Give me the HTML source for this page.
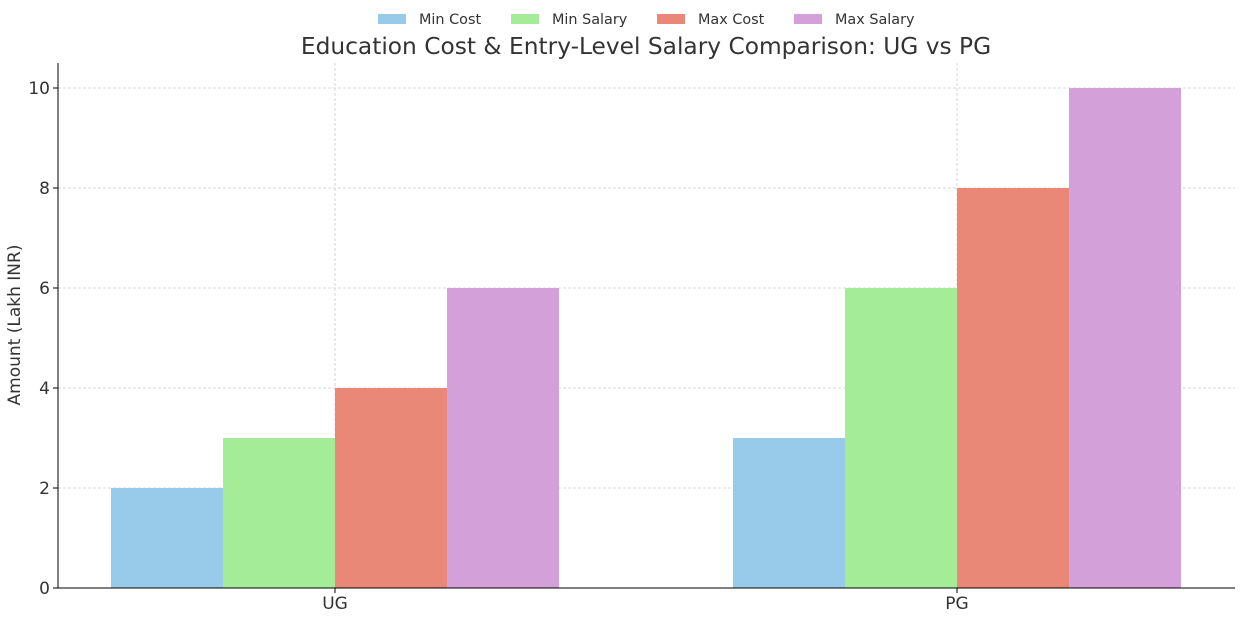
<!DOCTYPE html>
<html><head><style>body{margin:0;background:#fff}svg{display:block}text{font-family:"DejaVu Sans","Liberation Sans",sans-serif;fill:#333}</style></head><body>
<svg width="1246" height="622" viewBox="0 0 1246 622">
<g stroke="#ccc" stroke-width="0.8" stroke-dasharray="3,2">
<line x1="58" x2="1235" y1="488" y2="488"/><line x1="58" x2="1235" y1="388" y2="388"/><line x1="58" x2="1235" y1="288" y2="288"/><line x1="58" x2="1235" y1="188" y2="188"/><line x1="58" x2="1235" y1="88" y2="88"/>
<line x1="335" x2="335" y1="63" y2="588"/><line x1="957" x2="957" y1="63" y2="588"/>
</g>
<rect x="111" y="488" width="112" height="100" fill="#97cbe9"/>
<rect x="223" y="438" width="112" height="150" fill="#a4ec97"/>
<rect x="335" y="388" width="112" height="200" fill="#e98877"/>
<rect x="447" y="288" width="112" height="300" fill="#d4a0d9"/>
<rect x="733" y="438" width="112" height="150" fill="#97cbe9"/>
<rect x="845" y="288" width="112" height="300" fill="#a4ec97"/>
<rect x="957" y="188" width="112" height="400" fill="#e98877"/>
<rect x="1069" y="88" width="112" height="500" fill="#d4a0d9"/>
<g stroke="#000" stroke-width="1"><line x1="58" x2="58" y1="63" y2="588"/><line x1="58" x2="1235" y1="588" y2="588"/>
<line x1="53" x2="58" y1="588" y2="588"/><line x1="53" x2="58" y1="488" y2="488"/><line x1="53" x2="58" y1="388" y2="388"/><line x1="53" x2="58" y1="288" y2="288"/><line x1="53" x2="58" y1="188" y2="188"/><line x1="53" x2="58" y1="88" y2="88"/>
<line x1="335" x2="335" y1="588" y2="593"/><line x1="957" x2="957" y1="588" y2="593"/></g>
<g font-size="17" text-anchor="end"><text x="50" y="594">0</text><text x="50" y="494">2</text><text x="50" y="394">4</text><text x="50" y="294">6</text><text x="50" y="194">8</text><text x="50" y="94">10</text></g>
<g font-size="17" text-anchor="middle"><text x="335" y="609">UG</text><text x="957" y="609">PG</text></g>
<text transform="translate(20,325) rotate(-90)" font-size="17" text-anchor="middle">Amount (Lakh INR)</text>
<text x="646" y="54" font-size="23.3" text-anchor="middle">Education Cost &amp; Entry-Level Salary Comparison: UG vs PG</text>
<g font-size="14.4">
<rect x="378" y="14" width="28" height="10" fill="#97cbe9"/><text x="419" y="24">Min Cost</text>
<rect x="511" y="14" width="28" height="10" fill="#a4ec97"/><text x="552" y="24">Min Salary</text>
<rect x="657" y="14" width="28" height="10" fill="#e98877"/><text x="698" y="24">Max Cost</text>
<rect x="794" y="14" width="28" height="10" fill="#d4a0d9"/><text x="835" y="24">Max Salary</text>
</g>
</svg></body></html>
